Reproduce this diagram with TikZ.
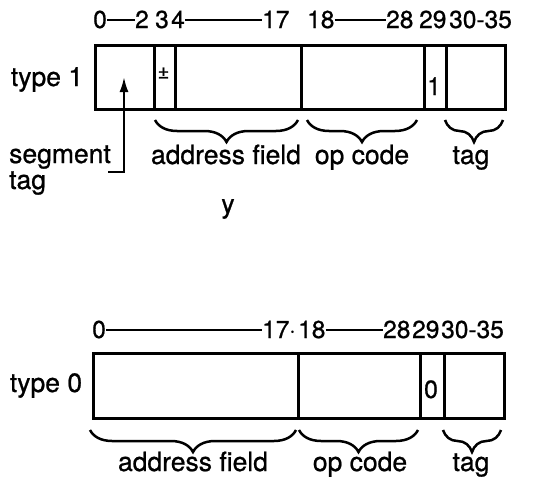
\documentclass[tikz,border=0pt]{standalone}
\usepackage{fontspec}
\setmainfont{TeX Gyre Heros}[UprightFeatures={FakeBold=0.8}]
\usetikzlibrary{decorations.pathreplacing,arrows.meta}
\begin{document}
\begin{tikzpicture}[x=1pt,y=-1pt,
  lbl/.style={font=\fontsize{26.5}{30}\selectfont, inner sep=0pt, anchor=base},
  num/.style={font=\fontsize{24.5}{28}\selectfont, inner sep=0pt, anchor=base west},
  small/.style={font=\fontsize{20}{22}\selectfont, inner sep=0pt},
  bit/.style={font=\fontsize{25}{26}\selectfont, inner sep=0pt, anchor=base},
  fld/.style={draw, line width=2.5pt, inner sep=0pt, anchor=north west},
  dashline/.style={line width=2pt},
  brc/.style={decorate, decoration={brace, amplitude=22pt}, line width=2.5pt},
  arr/.style={line width=2.2pt, -{Latex[length=15pt,width=9pt]}}
  ]
\useasboundingbox (0,0) rectangle (533,479);
% ---------- type 1 ----------
\node[fld, minimum width=59pt, minimum height=64pt] (t1seg) at (94,44) {};
\node[fld, minimum width=21pt, minimum height=64pt] (t1sgn) at (153,44) {};
\node[fld, minimum width=126pt, minimum height=64pt] (t1adr) at (174,44) {};
\node[fld, minimum width=123pt, minimum height=64pt] (t1op) at (300,44) {};
\node[fld, minimum width=22pt, minimum height=64pt] (t1bit) at (423,44) {};
\node[fld, minimum width=59pt, minimum height=64pt] (t1tag) at (445,44) {};
\node[small] (pm) at (163.5,73) {±};
\node[bit] (one) at (434,95) {1};
\node[lbl] (type1) at (47,86) {type 1};
% bit numbers
\node[num] (a0) at (93,28) {0};
\node[num] (a2) at (135,28) {2};
\node[num] (a3) at (155,28) {3};
\node[num] (a4) at (171,28) {4};
\node[num] (a17) at (262,28) {17};
\node[num] (a18) at (307,28) {18};
\node[num] (a28) at (386,28) {28};
\node[num] (a29) at (419,28) {29};
\node[num] (a30) at (449,28) {30-35};
\draw[dashline] (a0.east |- 0,20) -- (a2.west |- 0,20);
\draw[dashline] (a4.east |- 0,20) -- (a17.west |- 0,20);
\draw[dashline] (a18.east |- 0,20) -- (a28.west |- 0,20);
% braces
\draw[brc] (298,120) -- (155,120);
\draw[brc] (417,120) -- (307,120);
\draw[brc] (503,120) -- (445,120);
\node[lbl] (adr1) at (226,164) {address field};
\node[lbl] (op1) at (362,164) {op code};
\node[lbl] (tag1) at (471,164) {tag};
% segment tag
\node[lbl, anchor=base west] (segm) at (9,163) {segment};
\node[lbl, anchor=base west] (segt) at (9,189) {tag};
\coordinate (sc) at (108,172);
\coordinate (segtip) at (124,77);
\draw[arr] (sc) -| (segtip);
\node[lbl] (yy) at (228,213) {y};
% ---------- type 0 ----------
\node[fld, minimum width=205pt, minimum height=65pt] (t0adr) at (92,352) {};
\node[fld, minimum width=122pt, minimum height=65pt] (t0op) at (297,352) {};
\node[fld, minimum width=24pt, minimum height=65pt] (t0bit) at (419,352) {};
\node[fld, minimum width=60pt, minimum height=65pt] (t0tag) at (443,352) {};
\node[bit] (zero) at (431,398) {0};
\node[lbl] (type0) at (46,392) {type 0};
\node[num] (b0) at (92,338) {0};
\node[num] (b17) at (262,338) {17};
\node[num] (bdot) at (289,338) {$\cdot$};
\node[num] (b18) at (298,338) {18};
\node[num] (b28) at (383,338) {28};
\node[num] (b29) at (412,338) {29};
\node[num] (b30) at (441,338) {30-35};
\draw[dashline] (b0.east |- 0,330) -- (b17.west |- 0,330);
\draw[dashline] (b18.east |- 0,330) -- (b28.west |- 0,330);
\draw[brc] (296,430) -- (90,430);
\draw[brc] (418,430) -- (299,430);
\draw[brc] (501,430) -- (443,430);
\node[lbl] (adr0) at (193,471) {address field};
\node[lbl] (op0) at (360,471) {op code};
\node[lbl] (tag0) at (471,471) {tag};
\end{tikzpicture}
\end{document}
